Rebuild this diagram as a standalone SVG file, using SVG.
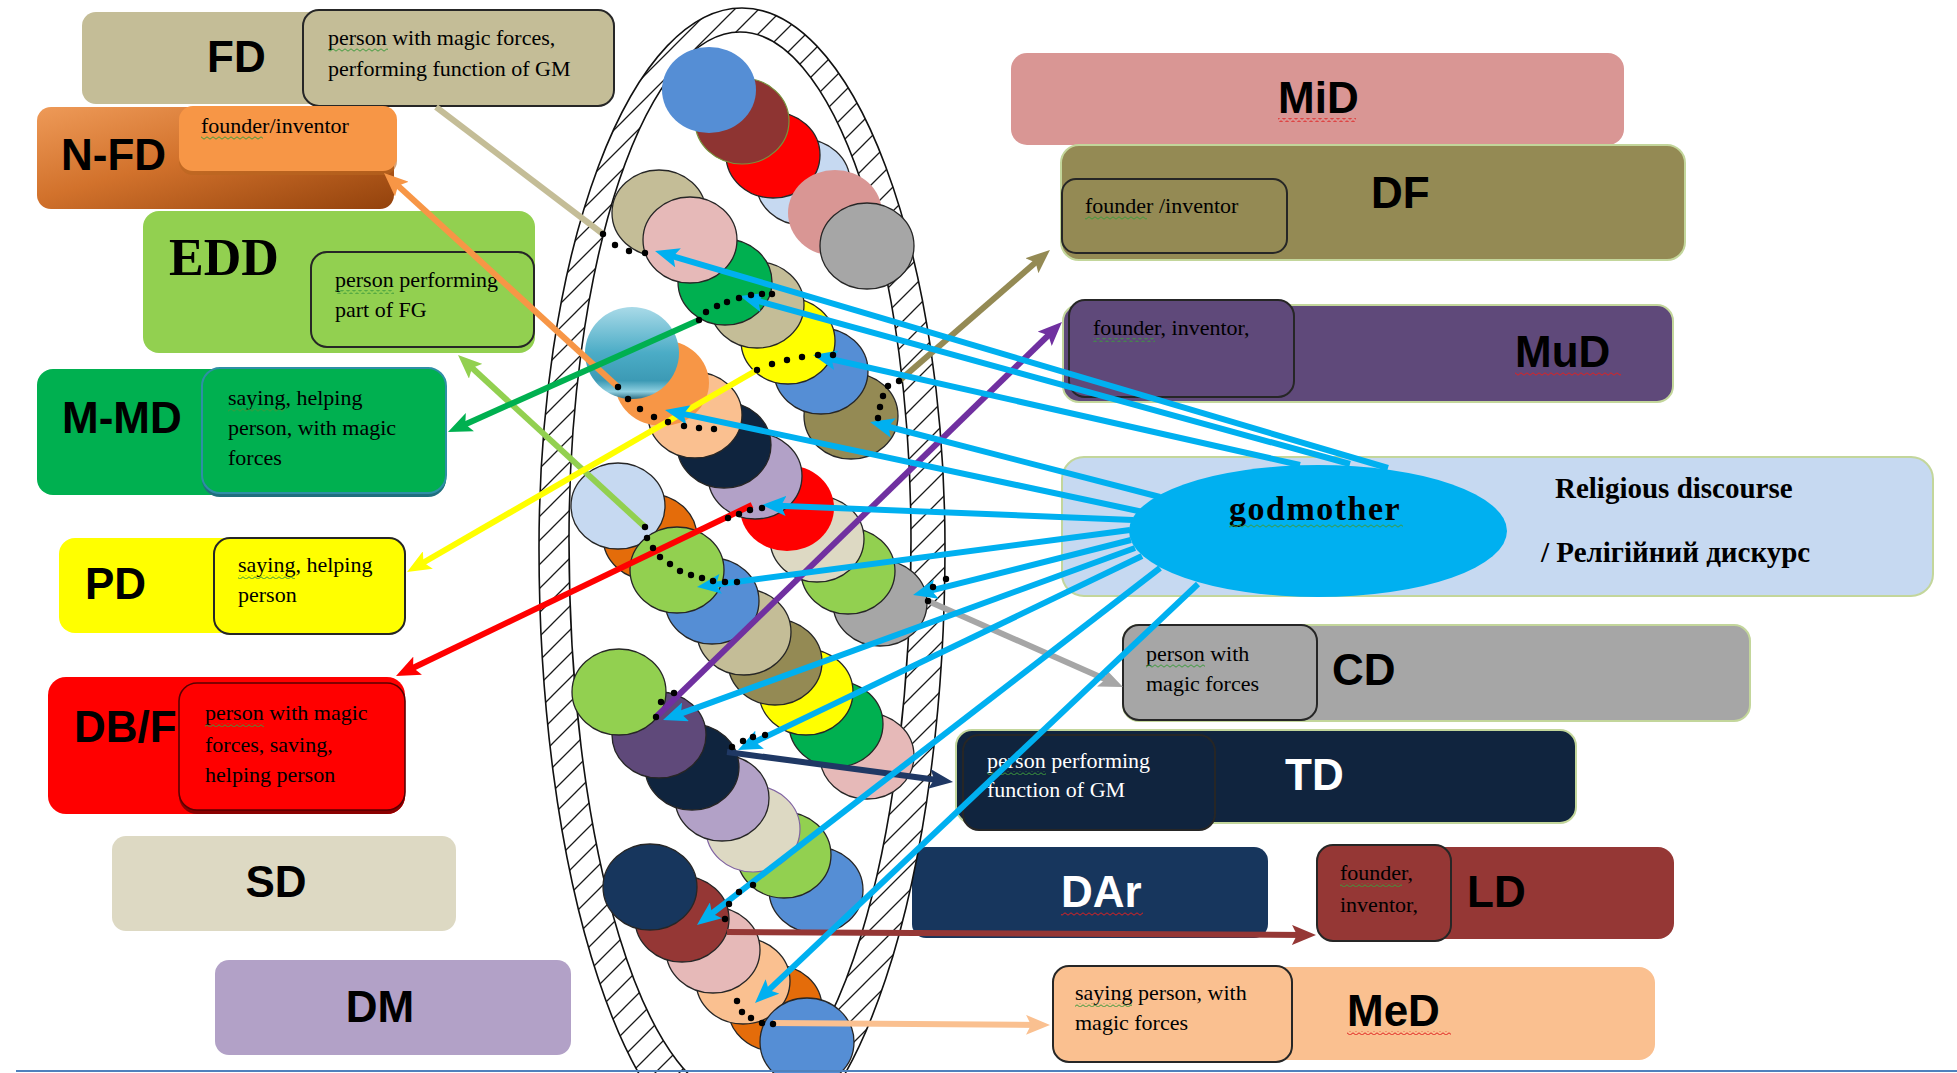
<svg xmlns="http://www.w3.org/2000/svg" width="1957" height="1073" viewBox="0 0 1957 1073">
  <style>
    .lbl{font-family:"Liberation Sans",Arial,sans-serif;font-weight:bold;font-size:44px;fill:#000}
    .tx{font-family:"Liberation Serif","Times New Roman",serif;font-size:22px;fill:#000}
    .tb{stroke:#262626;stroke-width:2}
    .lg{stroke:#C3D69B;stroke-width:2}
    .c{stroke:#262626;stroke-width:1.3}
    .ln{fill:none;stroke-width:6}
    .sqg{fill:url(#sq-g)}
    .sqr{fill:url(#sq-r)}
    .w{fill:#fff}
  </style>
  <defs>
    <pattern id="hatch" patternUnits="userSpaceOnUse" width="24" height="24">
      <rect width="24" height="24" fill="#fff"/>
      <path d="M-2,2 L2,-2 M0,24 L24,0 M22,26 L26,22" stroke="#1a1a1a" stroke-width="1.3"/>
    </pattern>
    <pattern id="sq-g" patternUnits="userSpaceOnUse" width="6" height="4">
      <path d="M0,3.2 L3,0.8 L6,3.2" fill="none" stroke="#3C9A3C" stroke-width="1"/>
    </pattern>
    <pattern id="sq-r" patternUnits="userSpaceOnUse" width="6" height="4">
      <path d="M0,3.2 L3,0.8 L6,3.2" fill="none" stroke="#E02020" stroke-width="1"/>
    </pattern>
    <linearGradient id="g-nfd" x1="0" y1="0" x2="1" y2="1">
      <stop offset="0" stop-color="#EE9A58"/>
      <stop offset="0.45" stop-color="#D2722C"/>
      <stop offset="1" stop-color="#93420C"/>
    </linearGradient>
    <linearGradient id="g-teal" x1="0" y1="0" x2="0" y2="1">
      <stop offset="0" stop-color="#A9DAE8"/>
      <stop offset="0.5" stop-color="#4BACC6"/>
      <stop offset="0.8" stop-color="#3C9AB5"/>
      <stop offset="0.92" stop-color="#8FCFE0"/>
      <stop offset="1" stop-color="#2C6F84"/>
    </linearGradient>
    <marker id="m-blue" viewBox="0 0 24 20" refX="14" refY="10" markerWidth="24" markerHeight="20" markerUnits="userSpaceOnUse" orient="auto"><path d="M0,0 L24,10 L0,20 L5,10 z" fill="#00B0F0"/></marker>
    <marker id="m-orange" viewBox="0 0 24 20" refX="14" refY="10" markerWidth="24" markerHeight="20" markerUnits="userSpaceOnUse" orient="auto"><path d="M0,0 L24,10 L0,20 L5,10 z" fill="#F79646"/></marker>
    <marker id="m-lgreen" viewBox="0 0 24 20" refX="14" refY="10" markerWidth="24" markerHeight="20" markerUnits="userSpaceOnUse" orient="auto"><path d="M0,0 L24,10 L0,20 L5,10 z" fill="#92D050"/></marker>
    <marker id="m-green" viewBox="0 0 24 20" refX="14" refY="10" markerWidth="24" markerHeight="20" markerUnits="userSpaceOnUse" orient="auto"><path d="M0,0 L24,10 L0,20 L5,10 z" fill="#00B050"/></marker>
    <marker id="m-yellow" viewBox="0 0 24 20" refX="14" refY="10" markerWidth="24" markerHeight="20" markerUnits="userSpaceOnUse" orient="auto"><path d="M0,0 L24,10 L0,20 L5,10 z" fill="#FFFF00"/></marker>
    <marker id="m-red" viewBox="0 0 24 20" refX="14" refY="10" markerWidth="24" markerHeight="20" markerUnits="userSpaceOnUse" orient="auto"><path d="M0,0 L24,10 L0,20 L5,10 z" fill="#FF0000"/></marker>
    <marker id="m-purple" viewBox="0 0 24 20" refX="14" refY="10" markerWidth="24" markerHeight="20" markerUnits="userSpaceOnUse" orient="auto"><path d="M0,0 L24,10 L0,20 L5,10 z" fill="#7030A0"/></marker>
    <marker id="m-olive" viewBox="0 0 24 20" refX="14" refY="10" markerWidth="24" markerHeight="20" markerUnits="userSpaceOnUse" orient="auto"><path d="M0,0 L24,10 L0,20 L5,10 z" fill="#948A54"/></marker>
    <marker id="m-gray" viewBox="0 0 24 20" refX="14" refY="10" markerWidth="24" markerHeight="20" markerUnits="userSpaceOnUse" orient="auto"><path d="M0,0 L24,10 L0,20 L5,10 z" fill="#A6A6A6"/></marker>
    <marker id="m-navy" viewBox="0 0 24 20" refX="14" refY="10" markerWidth="24" markerHeight="20" markerUnits="userSpaceOnUse" orient="auto"><path d="M0,0 L24,10 L0,20 L5,10 z" fill="#1F3864"/></marker>
    <marker id="m-brown" viewBox="0 0 24 20" refX="14" refY="10" markerWidth="24" markerHeight="20" markerUnits="userSpaceOnUse" orient="auto"><path d="M0,0 L24,10 L0,20 L5,10 z" fill="#953735"/></marker>
    <marker id="m-peach" viewBox="0 0 24 20" refX="14" refY="10" markerWidth="24" markerHeight="20" markerUnits="userSpaceOnUse" orient="auto"><path d="M0,0 L24,10 L0,20 L5,10 z" fill="#FAC090"/></marker>
  </defs>

  <rect width="1957" height="1073" fill="#fff"/>

  <!-- left-hand discourse boxes -->
  <g id="node-fd">
    <rect x="82" y="12" width="400" height="92" rx="14" fill="#C4BD97"/>
    <text class="lbl" x="207" y="72">FD</text>
    <rect class="tb" x="303" y="10" width="311" height="96" rx="16" fill="#C4BD97"/>
    <text class="tx" x="328" y="45">person with magic forces,</text>
    <text class="tx" x="328" y="76">performing function of GM</text>
    <rect class="sqg" x="328" y="48" width="60" height="4"/>
  </g>
  <g id="node-nfd">
    <rect x="37" y="107" width="357" height="102" rx="14" fill="url(#g-nfd)"/>
    <text class="lbl" x="61" y="170">N-FD</text>
    <rect x="179" y="110" width="218" height="65" rx="14" fill="#B9661F" opacity="0.6"/>
    <rect x="179" y="106" width="218" height="65" rx="14" fill="#F79646"/>
    <text class="tx" x="201" y="133">founder/inventor</text>
    <rect class="sqg" x="201" y="136" width="62" height="4"/>
  </g>
  <g id="node-edd">
    <rect x="143" y="211" width="392" height="142" rx="16" fill="#92D050"/>
    <text x="169" y="275" font-family="Liberation Serif, Times New Roman, serif" font-weight="bold" font-size="52">EDD</text>
    <rect class="tb" x="311" y="252" width="223" height="95" rx="16" fill="#92D050"/>
    <text class="tx" x="335" y="287">person performing</text>
    <text class="tx" x="335" y="317">part of FG</text>
    <rect class="sqg" x="335" y="290" width="59" height="4"/>
  </g>
  <g id="node-mmd">
    <rect x="37" y="369" width="409" height="126" rx="16" fill="#00B050"/>
    <text class="lbl" x="62" y="433">M-MD</text>
    <rect x="202" y="372" width="244" height="125" rx="18" fill="#1F6F7E"/>
    <rect x="202" y="368" width="244" height="125" rx="18" fill="#00B050" stroke="#2E8FA6" stroke-width="2"/>
    <text class="tx" x="228" y="405">saying, helping</text>
    <text class="tx" x="228" y="435">person, with magic</text>
    <text class="tx" x="228" y="465">forces</text>
    <rect class="sqg" x="228" y="408" width="57" height="4"/>
  </g>
  <g id="node-pd">
    <rect x="59" y="538" width="346" height="95" rx="16" fill="#FFFF00"/>
    <text class="lbl" x="85" y="599">PD</text>
    <rect class="tb" x="214" y="538" width="191" height="96" rx="16" fill="#FFFF00"/>
    <text class="tx" x="238" y="572">saying, helping</text>
    <text class="tx" x="238" y="602">person</text>
    <rect class="sqg" x="238" y="575" width="57" height="4"/>
  </g>
  <g id="node-dbf">
    <rect x="48" y="677" width="357" height="137" rx="18" fill="#FF0000"/>
    <text class="lbl" x="74" y="742" font-size="46">DB/F</text>
    <rect x="179" y="687" width="226" height="127" rx="18" fill="#8B0000"/>
    <rect x="179" y="683" width="226" height="127" rx="18" fill="#FF0000" stroke="#5A0000" stroke-width="1.6"/>
    <text class="tx" x="205" y="720">person with magic</text>
    <text class="tx" x="205" y="752">forces, saving,</text>
    <text class="tx" x="205" y="782">helping person</text>
    <rect class="sqg" x="205" y="723" width="59" height="4"/>
  </g>
  <g id="node-sd">
    <rect x="112" y="836" width="344" height="95" rx="14" fill="#DDD9C3"/>
    <text class="lbl" x="276" y="897" text-anchor="middle">SD</text>
  </g>
  <g id="node-dm">
    <rect x="215" y="960" width="356" height="95" rx="14" fill="#B2A1C7"/>
    <text class="lbl" x="380" y="1022" text-anchor="middle">DM</text>
  </g>

  <!-- right-hand discourse boxes -->
  <g id="node-mid">
    <rect x="1011" y="53" width="613" height="92" rx="16" fill="#D99694"/>
    <text class="lbl" x="1278" y="113">MiD</text>
    <rect class="sqr" x="1278" y="118" width="78" height="4"/>
  </g>
  <g id="node-df">
    <rect class="lg" x="1061" y="145" width="624" height="115" rx="18" fill="#948A54"/>
    <text class="lbl" x="1371" y="208">DF</text>
    <rect class="tb" x="1062" y="179" width="225" height="74" rx="14" fill="#948A54"/>
    <text class="tx" x="1085" y="213">founder /inventor</text>
    <rect class="sqg" x="1085" y="216" width="62" height="4"/>
  </g>
  <g id="node-mud">
    <rect class="lg" x="1063" y="305" width="610" height="97" rx="16" fill="#5F497A"/>
    <text class="lbl" x="1515" y="367">MuD</text>
    <rect class="sqr" x="1515" y="372" width="106" height="4"/>
    <rect class="tb" x="1069" y="300" width="225" height="97" rx="16" fill="#5F497A"/>
    <text class="tx" x="1093" y="335">founder, inventor,</text>
    <rect class="sqg" x="1093" y="338" width="62" height="4"/>
  </g>
  <g id="node-religious">
    <rect class="lg" x="1062" y="457" width="871" height="139" rx="22" fill="#C6D9F1"/>
    <text x="1555" y="498" font-family="Liberation Serif, Times New Roman, serif" font-weight="bold" font-size="29">Religious discourse</text>
    <text x="1541" y="562" font-family="Liberation Serif, Times New Roman, serif" font-weight="bold" font-size="29">/ Релігійний дискурс</text>
  </g>
  <g id="node-cd">
    <rect class="lg" x="1123" y="625" width="627" height="96" rx="16" fill="#A6A6A6"/>
    <text class="lbl" x="1332" y="685">CD</text>
    <rect class="tb" x="1123" y="625" width="194" height="95" rx="16" fill="#A6A6A6"/>
    <text class="tx" x="1146" y="661">person with</text>
    <text class="tx" x="1146" y="691">magic forces</text>
    <rect class="sqg" x="1146" y="664" width="59" height="4"/>
  </g>
  <g id="node-td">
    <rect class="lg" x="956" y="730" width="620" height="93" rx="16" fill="#10243E"/>
    <text class="lbl w" x="1285" y="790">TD</text>
    <rect class="tb" x="963" y="735" width="252" height="95" rx="16" fill="#10243E"/>
    <text class="tx w" x="987" y="768">person performing</text>
    <text class="tx w" x="987" y="797">function of GM</text>
    <rect class="sqg" x="987" y="771" width="59" height="4"/>
  </g>
  <g id="node-dar">
    <rect x="912" y="847" width="356" height="91" rx="14" fill="#17365D"/>
    <text class="lbl w" x="1061" y="907">DAr</text>
    <rect class="sqr" x="1061" y="912" width="82" height="4"/>
  </g>
  <g id="node-ld">
    <rect x="1317" y="847" width="357" height="92" rx="16" fill="#953735"/>
    <text class="lbl" x="1467" y="907">LD</text>
    <rect class="tb" x="1317" y="845" width="134" height="96" rx="16" fill="#953735"/>
    <text class="tx" x="1340" y="880">founder,</text>
    <text class="tx" x="1340" y="912">inventor,</text>
    <rect class="sqg" x="1340" y="883" width="62" height="4"/>
  </g>
  <g id="node-med">
    <rect x="1053" y="967" width="602" height="93" rx="16" fill="#FAC090"/>
    <text class="lbl" x="1347" y="1026">MeD</text>
    <rect class="sqr" x="1347" y="1031" width="104" height="4"/>
    <rect class="tb" x="1053" y="966" width="239" height="96" rx="16" fill="#FAC090"/>
    <text class="tx" x="1075" y="1000">saying person, with</text>
    <text class="tx" x="1075" y="1030">magic forces</text>
    <rect class="sqg" x="1075" y="1003" width="57" height="4"/>
  </g>

  <!-- hatched vessel holding the chains of discs (runs off the bottom edge) -->
  <g id="vessel">
    <path d="M539,548 A203 540 0 0 1 945,548 A203 610 0 0 1 539,548 Z" fill="url(#hatch)" stroke="#111" stroke-width="1.6"/>
    <path d="M569,540 A171 508 0 0 1 911,540 A171 560 0 0 1 569,540 Z" fill="#fff" stroke="#111" stroke-width="1.6"/>
  </g>

  <!-- disc chains, drawn back to front -->
  <g id="chain-a">
    <ellipse class="c" cx="803" cy="182" rx="47" ry="43" fill="#C6D9F1"/>
    <ellipse class="c" cx="773" cy="155" rx="47" ry="43" fill="#FF0000"/>
    <ellipse cx="742" cy="121" rx="47" ry="43" fill="#8E3432" stroke="#77933C" stroke-width="1.2"/>
    <ellipse cx="709" cy="90" rx="47" ry="43" fill="#558ED5"/>
    <ellipse cx="835" cy="213" rx="47" ry="43" fill="#D99694"/>
    <ellipse class="c" cx="867" cy="246" rx="47" ry="43" fill="#A6A6A6"/>
  </g>
  <g id="chain-b">
    <ellipse class="c" cx="851" cy="416" rx="47" ry="43" fill="#948A54"/>
    <ellipse class="c" cx="821" cy="371" rx="47" ry="43" fill="#558ED5"/>
    <ellipse class="c" cx="788" cy="341" rx="47" ry="43" fill="#FFFF00"/>
    <ellipse class="c" cx="757" cy="305" rx="47" ry="43" fill="#C4BD97"/>
    <ellipse class="c" cx="725" cy="282" rx="47" ry="43" fill="#00B050"/>
    <ellipse class="c" cx="659" cy="213" rx="47" ry="43" fill="#C4BD97"/>
    <ellipse class="c" cx="690" cy="240" rx="47" ry="43" fill="#E6B9B8"/>
  </g>
  <g id="chain-c">
    <ellipse class="c" cx="880" cy="603" rx="47" ry="43" fill="#A6A6A6"/>
    <ellipse class="c" cx="848" cy="571" rx="47" ry="43" fill="#92D050"/>
    <ellipse class="c" cx="817" cy="539" rx="47" ry="43" fill="#DDD9C3"/>
    <ellipse cx="787" cy="508" rx="47" ry="43" fill="#FF0000"/>
    <ellipse class="c" cx="755" cy="476" rx="47" ry="43" fill="#B2A1C7"/>
    <ellipse class="c" cx="724" cy="445" rx="47" ry="43" fill="#0F243E"/>
    <ellipse class="c" cx="695" cy="415" rx="47" ry="43" fill="#FAC090"/>
    <ellipse cx="662" cy="383" rx="47" ry="43" fill="#F79646"/>
    <ellipse cx="632" cy="353" rx="47" ry="46" fill="url(#g-teal)"/>
  </g>
  <g id="chain-d">
    <ellipse class="c" cx="867" cy="756" rx="47" ry="43" fill="#E6B9B8"/>
    <ellipse class="c" cx="836" cy="724" rx="47" ry="43" fill="#00B050"/>
    <ellipse class="c" cx="806" cy="692" rx="47" ry="43" fill="#FFFF00"/>
    <ellipse class="c" cx="775" cy="662" rx="47" ry="43" fill="#948A54"/>
    <ellipse class="c" cx="744" cy="632" rx="47" ry="43" fill="#C4BD97"/>
    <ellipse class="c" cx="712" cy="601" rx="47" ry="43" fill="#558ED5"/>
    <ellipse class="c" cx="650" cy="537" rx="47" ry="43" fill="#E46C0A"/>
    <ellipse class="c" cx="618" cy="506" rx="47" ry="43" fill="#C6D9F1"/>
    <ellipse class="c" cx="677" cy="570" rx="47" ry="43" fill="#92D050"/>
  </g>
  <g id="chain-e">
    <ellipse class="c" cx="816" cy="890" rx="47" ry="43" fill="#558ED5"/>
    <ellipse class="c" cx="784" cy="855" rx="47" ry="43" fill="#92D050"/>
    <ellipse cx="753" cy="829" rx="47" ry="43" fill="#DDD9C3" stroke="#8064A2" stroke-width="1.2"/>
    <ellipse class="c" cx="722" cy="798" rx="47" ry="43" fill="#B2A1C7"/>
    <ellipse class="c" cx="692" cy="767" rx="47" ry="43" fill="#0F243E"/>
    <ellipse class="c" cx="659" cy="735" rx="47" ry="43" fill="#5F497A"/>
    <ellipse class="c" cx="619" cy="692" rx="47" ry="43" fill="#92D050"/>
  </g>
  <g id="chain-f">
    <ellipse class="c" cx="775" cy="1008" rx="47" ry="43" fill="#E46C0A"/>
    <ellipse class="c" cx="743" cy="981" rx="47" ry="43" fill="#FAC090"/>
    <ellipse class="c" cx="713" cy="950" rx="47" ry="43" fill="#E6B9B8"/>
    <ellipse class="c" cx="682" cy="919" rx="47" ry="43" fill="#953735"/>
    <ellipse class="c" cx="650" cy="887" rx="47" ry="43" fill="#17365D"/>
    <ellipse class="c" cx="807" cy="1042" rx="47" ry="44" fill="#558ED5"/>
  </g>

  <!-- connectors -->
  <g id="connectors">
    <path class="ln" stroke="#C4BD97" d="M436,107 L603,234"/>
    <path class="ln" stroke="#F79646" d="M618,387 L391.4,179.7" marker-end="url(#m-orange)"/>
    <path class="ln" stroke="#92D050" d="M645,527 L465.4,361.8" marker-end="url(#m-lgreen)"/>
    <path class="ln" stroke="#00B050" d="M699,320 L457.1,427.9" marker-end="url(#m-green)"/>
    <path class="ln" stroke="#FFFF00" d="M757,370 L415.7,567" marker-end="url(#m-yellow)"/>
    <path class="ln" stroke="#FF0000" d="M752,505 L405,671.7" marker-end="url(#m-red)"/>
    <path class="ln" stroke="#7030A0" stroke-width="5" d="M656,717 L1054.8,329" marker-end="url(#m-purple)"/>
    <path class="ln" stroke="#948A54" stroke-width="5" d="M899,381 L1042.4,256.5" marker-end="url(#m-olive)"/>
    <path class="ln" stroke="#A6A6A6" d="M928,601 L1113.8,683" marker-end="url(#m-gray)"/>
    <path class="ln" stroke="#1F3864" stroke-width="7" d="M727,752 L943.1,780.7" marker-end="url(#m-navy)"/>
    <path class="ln" stroke="#953735" d="M727,932 L1306,935" marker-end="url(#m-brown)"/>
    <path class="ln" stroke="#FAC090" d="M773,1023 L1040,1025" marker-end="url(#m-peach)"/>

    <g stroke="#00B0F0" class="ln">
      <path d="M1388,468 L664.6,253.8" marker-end="url(#m-blue)"/>
      <path d="M1350,464 L749.6,298.7" marker-end="url(#m-blue)"/>
      <path d="M1300,465 L822.8,357.2" marker-end="url(#m-blue)"/>
      <path d="M1160,497 L879.7,424.5" marker-end="url(#m-blue)"/>
      <path d="M1143,512 L674.8,412.1" marker-end="url(#m-blue)"/>
      <path d="M1133,520 L772,505.4" marker-end="url(#m-blue)"/>
      <path d="M1130,530 L706.9,585.7" marker-end="url(#m-blue)"/>
      <path d="M1131,540 L922.7,592.6" marker-end="url(#m-blue)"/>
      <path d="M1135,548 L672.4,716.6" marker-end="url(#m-blue)"/>
      <path d="M1142,556 L747,745.7" marker-end="url(#m-blue)"/>
      <path d="M1160,568 L704.9,918.9" marker-end="url(#m-blue)"/>
      <path d="M1198,584 L762.3,996.1" marker-end="url(#m-blue)"/>
    </g>

    <!-- dotted continuations into the discs -->
    <g fill="#000">
      <circle cx="603" cy="234" r="3.2"/><circle cx="615" cy="245" r="3.2"/><circle cx="629" cy="251" r="3.2"/><circle cx="645" cy="253" r="3.2"/>
      <circle cx="699" cy="320" r="3.2"/><circle cx="706" cy="312" r="3.2"/><circle cx="717" cy="306" r="3.2"/><circle cx="727" cy="302" r="3.2"/><circle cx="739" cy="298" r="3.2"/><circle cx="751" cy="295" r="3.2"/><circle cx="762" cy="294" r="3.2"/><circle cx="772" cy="294" r="3.2"/>
      <circle cx="757" cy="370" r="3.2"/><circle cx="772" cy="364" r="3.2"/><circle cx="787" cy="360" r="3.2"/><circle cx="802" cy="357" r="3.2"/><circle cx="818" cy="355" r="3.2"/><circle cx="833" cy="355" r="3.2"/>
      <circle cx="899" cy="381" r="3.2"/><circle cx="888" cy="386" r="3.2"/><circle cx="883" cy="396" r="3.2"/><circle cx="880" cy="407" r="3.2"/><circle cx="878" cy="418" r="3.2"/>
      <circle cx="618" cy="387" r="3.2"/><circle cx="628" cy="399" r="3.2"/><circle cx="640" cy="409" r="3.2"/><circle cx="654" cy="417" r="3.2"/><circle cx="668" cy="422" r="3.2"/><circle cx="684" cy="426" r="3.2"/><circle cx="699" cy="428" r="3.2"/><circle cx="714" cy="429" r="3.2"/>
      <circle cx="728" cy="518" r="3.2"/><circle cx="739" cy="514" r="3.2"/><circle cx="750" cy="510" r="3.2"/><circle cx="762" cy="508" r="3.2"/>
      <circle cx="645" cy="527" r="3.2"/><circle cx="647" cy="538" r="3.2"/><circle cx="653" cy="548" r="3.2"/><circle cx="660" cy="557" r="3.2"/><circle cx="670" cy="564" r="3.2"/><circle cx="680" cy="571" r="3.2"/><circle cx="691" cy="575" r="3.2"/><circle cx="702" cy="578" r="3.2"/><circle cx="713" cy="581" r="3.2"/><circle cx="725" cy="582" r="3.2"/><circle cx="737" cy="582" r="3.2"/>
      <circle cx="946" cy="579" r="3.2"/><circle cx="933" cy="587" r="3.2"/><circle cx="928" cy="601" r="3.2"/>
      <circle cx="674" cy="693" r="3.2"/><circle cx="661" cy="702" r="3.2"/><circle cx="656" cy="717" r="3.2"/>
      <circle cx="732" cy="747" r="3.2"/><circle cx="743" cy="741" r="3.2"/><circle cx="753" cy="737" r="3.2"/><circle cx="765" cy="735" r="3.2"/>
      <circle cx="753" cy="885" r="3.2"/><circle cx="739" cy="892" r="3.2"/><circle cx="729" cy="904" r="3.2"/><circle cx="725" cy="919" r="3.2"/>
      <circle cx="737" cy="1001" r="3.2"/><circle cx="742" cy="1012" r="3.2"/><circle cx="751" cy="1018" r="3.2"/><circle cx="762" cy="1023" r="3.2"/><circle cx="773" cy="1024" r="3.2"/>
    </g>
  </g>

  <!-- central concept -->
  <g id="node-godmother">
    <ellipse cx="1318" cy="531" rx="189" ry="66" fill="#00B0F0"/>
    <text x="1229" y="520" font-family="Liberation Serif, Times New Roman, serif" font-weight="bold" font-size="34" letter-spacing="1.5">godmother</text>
    <rect class="sqg" x="1229" y="524" width="174" height="4"/>
  </g>

  <line x1="16" y1="1071" x2="1957" y2="1071" stroke="#4F81BD" stroke-width="2"/>
</svg>
